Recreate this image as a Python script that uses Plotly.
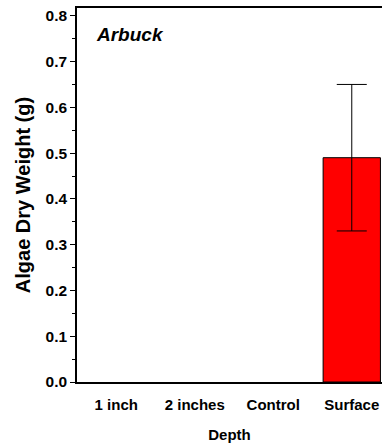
import plotly.graph_objects as go

categories = ["1 inch", "2 inches", "Control", "Surface"]
values = [0.0, 0.0, 0.0, 0.49]
errors = [0.0, 0.0, 0.0, 0.16]

font_family = "Liberation Sans, Arial, sans-serif"

# zero-height bars are not visible in the original; skip drawing them
plot_values = [v if v > 0 else None for v in values]

fig = go.Figure()
fig.add_trace(go.Bar(
    x=categories, y=plot_values,
    width=0.73,
    marker=dict(color="#ff0000", line=dict(color="black", width=1)),
    error_y=dict(type="data", array=errors, visible=True,
                 color="black", thickness=1, width=15),
))

fig.update_layout(
    width=382, height=445,
    margin=dict(l=77, r=0, t=8, b=63),
    plot_bgcolor="white", paper_bgcolor="white",
    showlegend=False,
    font=dict(family=font_family, color="black"),
    annotations=[dict(text="<b><i>Arbuck</i></b>", xref="paper", yref="paper",
                      x=0.055, y=0.928, xanchor="left", yanchor="middle",
                      showarrow=False, font=dict(size=19, family=font_family, color="black"))],
)
fig.update_xaxes(
    range=[-0.5, 3.385],
    showline=True, linecolor="black", linewidth=1.5, mirror=True,
    ticks="", tickfont=dict(size=15, family=font_family, color="black"),
    tickprefix="<b>", ticksuffix="</b>",
    ticklabelstandoff=8,
    title=dict(text="<b>Depth</b>", font=dict(size=15, family=font_family), standoff=18),
    showgrid=False,
)
fig.update_yaxes(
    range=[0, 0.817],
    tickvals=[0, 0.1, 0.2, 0.3, 0.4, 0.5, 0.6, 0.7, 0.8],
    ticktext=["<b>%.1f</b>" % v for v in [0, 0.1, 0.2, 0.3, 0.4, 0.5, 0.6, 0.7, 0.8]],
    showline=True, linecolor="black", linewidth=1.5,
    ticks="outside", ticklen=5, tickcolor="black", tickwidth=1,
    minor=dict(tickvals=[0.05, 0.15, 0.25, 0.35, 0.45, 0.55, 0.65, 0.75], ticks="outside", ticklen=3, tickcolor="black"),
    tickfont=dict(size=15.5, family=font_family, color="black"),
    title=dict(text="<b>Algae Dry Weight (g)</b>", font=dict(size=20, family=font_family), standoff=10),
    showgrid=False, zeroline=False,
)

fig.write_html("out.html")
